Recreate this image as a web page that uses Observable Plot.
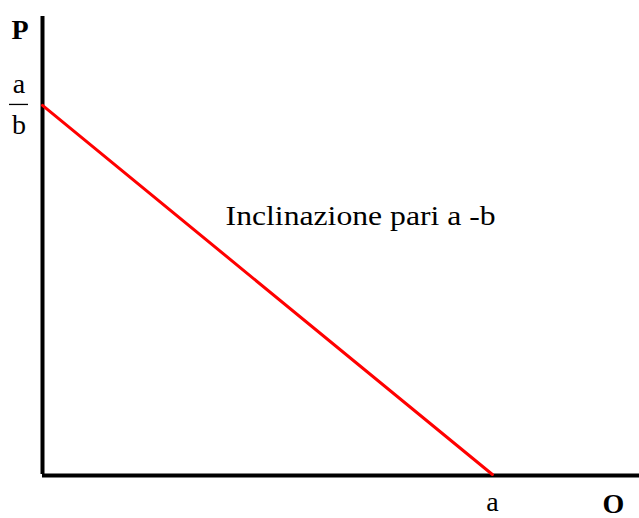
<!DOCTYPE html>
<html>
<head>
<meta charset="utf-8">
<script src="https://cdn.jsdelivr.net/npm/d3@7"></script>
<script src="https://cdn.jsdelivr.net/npm/@observablehq/plot@0.6"></script>
<style>
  html, body { margin: 0; padding: 0; background: #fff; }
  #chart svg { display: block; }
</style>
</head>
<body>
<div id="chart"></div>
<script>
// Linear demand curve P = a/b - Q/b, with a = 100 and b = 1 in chart units
const quantity = [0, 100];          // Q at the two ends of the curve
const price = [100, 0];             // P at the two ends of the curve
const xTickValues = [100];          // where Q = a
const xTickLabels = ["a"];
const yTickValue = 100;             // where P = a/b
const yFraction = ["a", "b"];       // numerator, denominator
const axisLabels = {x: "O", y: "P"};
const slopeNote = "Inclinazione pari a -b";

const xMax = 132.7;
const yMax = 124.1;
const serif = "'Liberation Serif', 'Times New Roman', serif";

const curve = quantity.map((q, i) => ({q, p: price[i]}));

const chart = Plot.plot({
  width: 639,
  height: 518,
  marginLeft: 42,
  marginRight: 0,
  marginTop: 16,
  marginBottom: 44,
  style: {fontFamily: serif, background: "#fff", color: "#000"},
  x: {domain: [0, xMax], axis: null},
  y: {domain: [0, yMax], axis: null},
  marks: [
    // axes
    Plot.ruleX([0], {y1: 0, y2: yMax, stroke: "#000", strokeWidth: 4}),
    Plot.ruleY([0], {x1: 0, x2: xMax, stroke: "#000", strokeWidth: 4, dy: 1}),
    // demand curve
    Plot.line(curve, {x: "q", y: "p", stroke: "#ff0000", strokeWidth: 3}),
    // Q = a tick label
    Plot.text(xTickValues, {x: d => d, y: 0, text: (d, i) => xTickLabels[i],
      fontSize: 28, dy: 36, lineAnchor: "bottom", fill: "#000"}),
    // P = a/b as a stacked fraction, the bar sitting in the left margin
    Plot.text([yTickValue], {x: 0, y: d => d, text: () => yFraction[0],
      fontSize: 28, dx: -23.5, dy: -12, lineAnchor: "bottom", fill: "#000"}),
    Plot.text([yTickValue], {x: 0, y: d => d, text: () => yFraction[1],
      fontSize: 28, dx: -23.5, dy: 29, lineAnchor: "bottom", fill: "#000"}),
    Plot.ruleY([yTickValue], {x1: 0, x2: 0, insetLeft: -33, insetRight: 14, dy: -1,
      stroke: "#000", strokeWidth: 1.3}),
    // axis titles
    Plot.text([axisLabels.y], {x: 0, y: yMax, text: d => d, fontSize: 28, fontWeight: "bold",
      dx: -22.5, dy: 22, lineAnchor: "bottom", fill: "#000"}),
    Plot.text([axisLabels.x], {x: xMax, y: 0, text: d => d, fontSize: 28, fontWeight: "bold",
      dx: -26, dy: 38, lineAnchor: "bottom", fill: "#000"}),
    // slope note
    Plot.text([slopeNote], {x: 40.7, y: 67.6, text: d => d, fontSize: 28,
      textAnchor: "start", lineAnchor: "bottom", fill: "#000"})
  ]
});

// the note is set slightly wide
d3.select(chart).selectAll("text")
  .filter(function() { return this.textContent === slopeNote; })
  .attr("textLength", 270)
  .attr("lengthAdjust", "spacingAndGlyphs");

document.getElementById("chart").appendChild(chart);
</script>
</body>
</html>
